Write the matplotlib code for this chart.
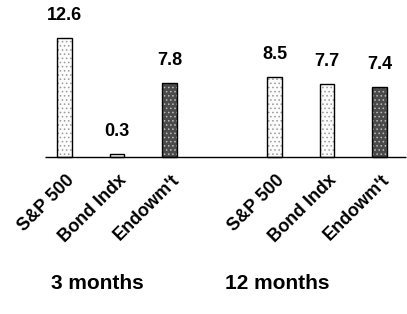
import matplotlib.pyplot as plt

plt.rcParams['font.family'] = ['Liberation Sans', 'DejaVu Sans']
plt.rcParams['hatch.linewidth'] = 0.6

# data
categories = ["S&P 500", "Bond Indx", "Endowm't", "S&P 500", "Bond Indx", "Endowm't"]
returns = [12.6, 0.3, 7.8, 8.5, 7.7, 7.4]
positions = [0, 1, 2, 4, 5, 6]
dark = [False, False, True, False, False, True]
groups = ["3 months", "12 months"]
group_x = [0.62, 4.05]

fig = plt.figure(figsize=(4.07, 3.14), dpi=100)
ax = fig.add_axes([0, 0, 1, 1])
ax.set_xlim(-1.229, 6.524)
ax.set_ylim(-16.63, 16.63)
ax.axis('off')

faces = ['#4a4a4a' if d else '#fbfbfb' for d in dark]
dots = ['#bdbdbd' if d else '#9a9a9a' for d in dark]

ax.bar(positions, returns, width=0.28, color=faces, linewidth=0)
ax.bar(positions, returns, width=0.28, color='none', edgecolor=dots,
       hatch='....', linewidth=0)
ax.bar(positions, returns, width=0.28, color='none', edgecolor='black',
       linewidth=1.0)

# baseline
ax.hlines(0, -0.37, 6.5, color='black', linewidth=1.0)

# value labels
for p, v in zip(positions, returns):
    ax.annotate(f"{v}", (p, v), xytext=(0, 10), textcoords='offset points',
                ha='center', va='bottom', fontsize=13, fontweight='bold')

# category labels
for p, c in zip(positions, categories):
    ax.text(p + 0.14, -2.2, c, rotation=45, rotation_mode='anchor',
            ha='right', va='center', fontsize=13, fontweight='bold')

# group labels
for gx, g in zip(group_x, groups):
    ax.text(gx, -13.35, g, ha='center', va='center', fontsize=15,
            fontweight='bold')

plt.savefig("out.png", dpi=100)
